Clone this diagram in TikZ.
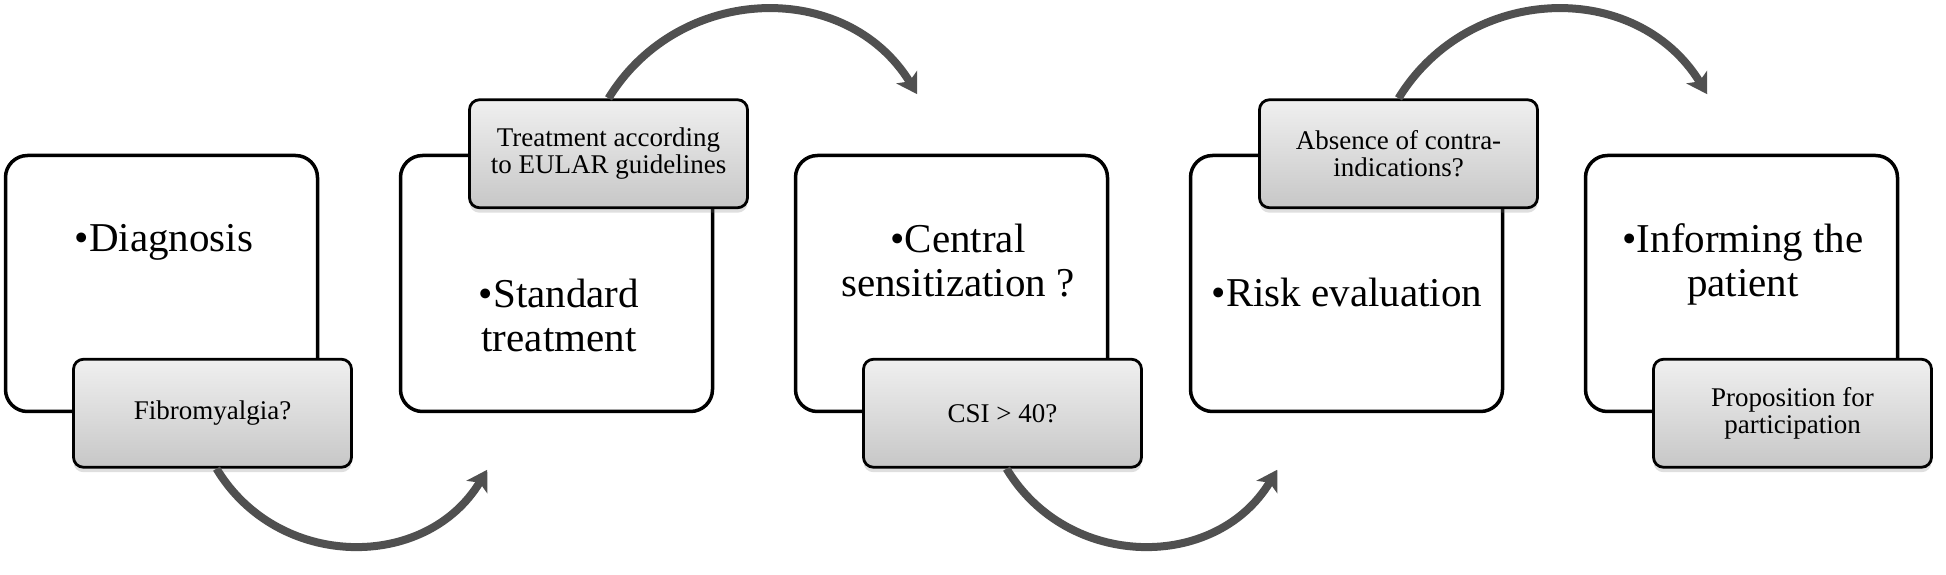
\documentclass[tikz,border=0pt]{standalone}
\usepackage{fontspec}
\setmainfont{Liberation Serif}
\usepackage{tikz}
\usetikzlibrary{arrows.meta,shadows,positioning}
\definecolor{arcgray}{RGB}{80,80,80}

\begin{document}
\begin{tikzpicture}[x=1pt,y=1pt,>={Stealth[length=20pt,width=24pt,inset=5pt]},
                    node distance=395pt,
                    main node/.style={draw,line width=3.5pt,rounded corners=22pt,
                      minimum width=312pt,minimum height=256pt,inner sep=0pt},
                    sub node/.style={draw,line width=2.8pt,rounded corners=10pt,
                      minimum width=278pt,minimum height=108pt,inner sep=0pt,
                      top color=black!6,bottom color=black!22,align=center,
                      drop shadow={shadow xshift=0pt,shadow yshift=-5pt,opacity=0.25},
                      font=\fontsize{27}{27}\selectfont},
                    big text/.style={align=center,inner sep=0pt,
                      font=\fontsize{41}{44}\selectfont},
                    flow/.style={->,line width=8pt,draw=arcgray}]
  \useasboundingbox (0,0) rectangle (1946,575);
  % the five steps
  \node[main node] (1) at (161.5,291.5) {};
  \node[main node] (2) [right of=1] {};
  \node[main node] (3) [right of=2] {};
  \node[main node] (4) [right of=3] {};
  \node[main node] (5) [right of=4] {};
  \node[big text,anchor=base] (t1) at ([shift={(2.5,31.5)}]1.center) {•Diagnosis};
  \node[big text] (t2) at ([shift={(2.5,-31.5)}]2.center) {•Standard\\treatment};
  \node[big text] (t3) at ([shift={(6.5,23)}]3.center) {•Central\\sensitization ?};
  \node[big text,anchor=base] (t4) at ([shift={(0.5,-23.5)}]4.center) {•Risk evaluation};
  \node[big text] (t5) at ([shift={(1.5,19)}]5.center) {•Informing the\\patient};
  % grey tabs
  \node[sub node] (s1) at ([xshift=51pt]1.south) {Fibromyalgia?};
  \node[sub node] (s2) at ([xshift=52pt]2.north) {Treatment according\\to EULAR guidelines};
  \node[sub node] (s3) at ([xshift=51pt]3.south) {CSI > 40?};
  \node[sub node] (s4) at ([xshift=52pt]4.north) {Absence of contra-\\indications?};
  \node[sub node] (s5) at ([xshift=51pt]5.south) {\raisebox{-6pt}{Proposition for}\\\raisebox{-6pt}{participation}};
  % curved arrows
  \coordinate (e2) at ([shift={(88.5,-56.5)}]2.south west);
  \coordinate (e3) at ([shift={(123.5,59.5)}]3.north west);
  \coordinate (e4) at ([shift={(88.5,-56.5)}]4.south west);
  \coordinate (e5) at ([shift={(123.5,59.5)}]5.north west);
  \draw[flow] ([xshift=4pt]s1.south) to[out=-59,in=-121,looseness=1.12] (e2);
  \draw[flow] (s2.north) to[out=58.5,in=121.5,looseness=1.12] (e3);
  \draw[flow] ([xshift=4pt]s3.south) to[out=-59,in=-121,looseness=1.12] (e4);
  \draw[flow] (s4.north) to[out=58.5,in=121.5,looseness=1.12] (e5);
\end{tikzpicture}
\end{document}
